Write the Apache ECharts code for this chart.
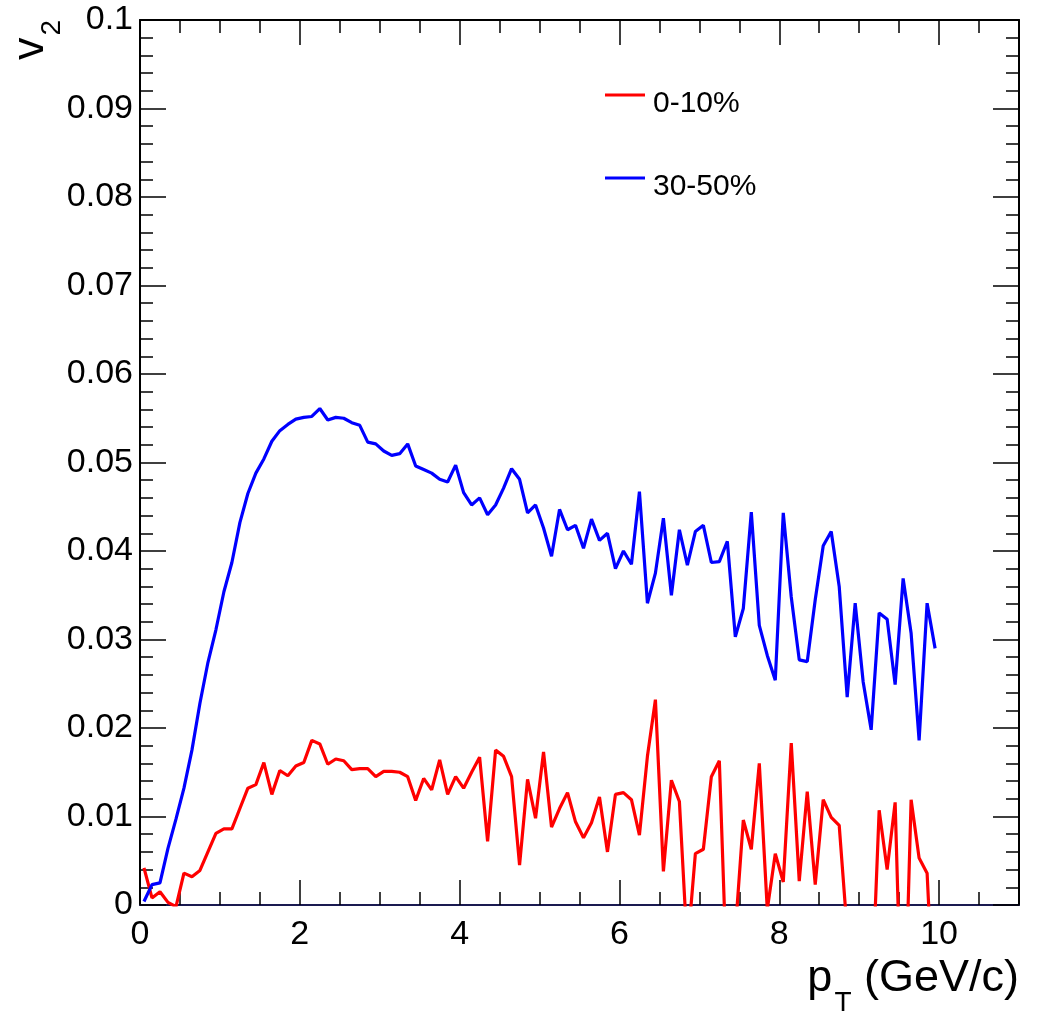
<!DOCTYPE html>
<html>
<head>
<meta charset="utf-8">
<script src="https://cdn.jsdelivr.net/npm/echarts@6/dist/echarts.min.js"></script>
<style>
html,body{margin:0;padding:0;background:#fff;}
#chart{width:1040px;height:1012px;}
</style>
</head>
<body>
<div id="chart"></div>
<script>
// bin centres (GeV/c)
var pT = [0.05,0.15,0.25,0.35,0.45,0.55,0.65,0.75,0.85,0.95,
  1.05,1.15,1.25,1.35,1.45,1.55,1.65,1.75,1.85,1.95,
  2.05,2.15,2.25,2.35,2.45,2.55,2.65,2.75,2.85,2.95,
  3.05,3.15,3.25,3.35,3.45,3.55,3.65,3.75,3.85,3.95,
  4.05,4.15,4.25,4.35,4.45,4.55,4.65,4.75,4.85,4.95,
  5.05,5.15,5.25,5.35,5.45,5.55,5.65,5.75,5.85,5.95,
  6.05,6.15,6.25,6.35,6.45,6.55,6.65,6.75,6.85,6.95,
  7.05,7.15,7.25,7.35,7.45,7.55,7.65,7.75,7.85,7.95,
  8.05,8.15,8.25,8.35,8.45,8.55,8.65,8.75,8.85,8.95,
  9.05,9.15,9.25,9.35,9.45,9.55,9.65,9.75,9.85,9.95];

// v2, 0-10% centrality
var v2Central = [0.0042,0.0008,0.0015,0.0003,-0.0002,0.0036,0.0032,0.0039,0.0060,0.0081,
  0.0086,0.0086,0.0109,0.0132,0.0136,0.0161,0.0125,0.0152,0.0146,0.0157,
  0.0161,0.0186,0.0182,0.0159,0.0165,0.0163,0.0153,0.0154,0.0154,0.0145,
  0.0151,0.0151,0.0150,0.0145,0.0118,0.0143,0.0130,0.0164,0.0125,0.0145,
  0.0132,0.0150,0.0167,0.0072,0.0175,0.0168,0.0145,0.0045,0.0142,0.0098,
  0.0173,0.0088,0.0109,0.0127,0.0094,0.0076,0.0093,0.0122,0.0060,0.0125,
  0.0127,0.0119,0.0079,0.0168,0.0232,0.0038,0.0141,0.0117,-0.0050,0.0058,
  0.0063,0.0145,0.0163,-0.0100,-0.0030,0.0096,0.0063,0.0160,-0.0005,0.0058,
  0.0026,0.0183,0.0027,0.0128,0.0023,0.0119,0.0099,0.0090,-0.0030,-0.0080,
  -0.0050,-0.0120,0.0107,0.0040,0.0116,-0.0200,0.0119,0.0053,0.0036,-0.0150];

// v2, 30-50% centrality
var v2Peripheral = [0.0004,0.0023,0.0025,0.0064,0.0097,0.0132,0.0175,0.0228,0.0274,0.0311,
  0.0354,0.0387,0.0432,0.0465,0.0488,0.0504,0.0524,0.0536,0.0543,0.0549,
  0.0551,0.0552,0.0561,0.0548,0.0551,0.0550,0.0545,0.0542,0.0523,0.0521,
  0.0513,0.0508,0.0510,0.0521,0.0496,0.0492,0.0488,0.0481,0.0478,0.0497,
  0.0466,0.0452,0.0460,0.0441,0.0452,0.0471,0.0493,0.0481,0.0443,0.0452,
  0.0426,0.0394,0.0447,0.0424,0.0429,0.0403,0.0436,0.0412,0.0420,0.0380,
  0.0400,0.0385,0.0467,0.0341,0.0375,0.0437,0.0350,0.0424,0.0384,0.0422,
  0.0429,0.0387,0.0388,0.0411,0.0303,0.0335,0.0444,0.0316,0.0282,0.0254,
  0.0443,0.0348,0.0277,0.0275,0.0345,0.0406,0.0422,0.0360,0.0235,0.0341,
  0.0252,0.0198,0.0330,0.0323,0.0249,0.0369,0.0307,0.0186,0.0341,0.0290];

var seriesNames = ['0-10%', '30-50%'];
var xTickLabels = ['0','2','4','6','8','10'];
var yTickLabels = ['0','0.01','0.02','0.03','0.04','0.05','0.06','0.07','0.08','0.09','0.1'];

var FONT = 'Liberation Sans, Arial, Helvetica, sans-serif';

function pairs(xs, ys) {
  var out = [];
  for (var i = 0; i < xs.length; i++) out.push([xs[i], ys[i]]);
  return out;
}

var chart = echarts.init(document.getElementById('chart'), null, {renderer: 'canvas'});

var xBase = {type: 'value', min: 0, max: 11, gridIndex: 0, splitLine: {show: false}};
var yBase = {type: 'value', min: 0, max: 0.1, interval: 0.01, gridIndex: 0, splitLine: {show: false}};
var legendText = {
  fontSize: 30, fontFamily: FONT, color: '#000',
  rich: {t: {fontSize: 30, fontFamily: FONT, color: '#000', lineHeight: 32, padding: [18, 0, 0, 3]}}
};
function legendFmt(name) { return '{t|' + name + '}'; }

var option = {
  animation: false,
  backgroundColor: '#ffffff',
  grid: {left: 140, right: 21, top: 20, bottom: 107, containLabel: false},
  legend: [
    {data: [seriesNames[0]], left: 605, top: 71, padding: 0, icon: 'rect', itemWidth: 40, itemHeight: 3,
     selectedMode: false, textStyle: legendText, formatter: legendFmt},
    {data: [seriesNames[1]], left: 605, top: 154, padding: 0, icon: 'rect', itemWidth: 40, itemHeight: 3,
     selectedMode: false, textStyle: legendText, formatter: legendFmt}
  ],
  xAxis: [
    Object.assign({}, xBase, {
      position: 'bottom', interval: 2,
      axisLine: {show: true, onZero: false, lineStyle: {color: '#1a1a50', width: 2}},
      axisTick: {show: true, inside: true, length: 25, lineStyle: {color: '#000', width: 1.5}},
      axisLabel: {show: true, fontSize: 34, fontFamily: FONT, color: '#000', margin: 13,
        formatter: function (v) { var s = String(v); return xTickLabels.indexOf(s) >= 0 ? s : ''; }}
    }),
    Object.assign({}, xBase, {
      position: 'bottom', interval: 0.5,
      axisLine: {show: false, onZero: false},
      axisTick: {show: true, inside: true, length: 13, lineStyle: {color: '#000', width: 1.5}},
      axisLabel: {show: false}
    }),
    Object.assign({}, xBase, {
      position: 'top', interval: 2,
      axisLine: {show: true, onZero: false, lineStyle: {color: '#000', width: 2}},
      axisTick: {show: true, inside: true, length: 25, lineStyle: {color: '#000', width: 1.5}},
      axisLabel: {show: false}
    }),
    Object.assign({}, xBase, {
      position: 'top', interval: 0.5,
      axisLine: {show: false, onZero: false},
      axisTick: {show: true, inside: true, length: 13, lineStyle: {color: '#000', width: 1.5}},
      axisLabel: {show: false}
    })
  ],
  yAxis: [
    Object.assign({}, yBase, {
      position: 'left',
      axisLine: {show: true, onZero: false, lineStyle: {color: '#000', width: 2}},
      axisTick: {show: true, inside: true, length: 26, lineStyle: {color: '#000', width: 1.5}},
      minorTick: {show: true, splitNumber: 5, length: 13, lineStyle: {color: '#000', width: 1.5}},
      axisLabel: {show: true, fontSize: 34, fontFamily: FONT, color: '#000', margin: 7,
        formatter: function (v) {
          var k = Math.round(v * 100);
          return yTickLabels[k] !== undefined ? yTickLabels[k] : '';
        }}
    }),
    Object.assign({}, yBase, {
      position: 'right',
      axisLine: {show: true, onZero: false, lineStyle: {color: '#000', width: 2}},
      axisTick: {show: true, inside: true, length: 26, lineStyle: {color: '#000', width: 1.5}},
      minorTick: {show: true, splitNumber: 5, length: 13, lineStyle: {color: '#000', width: 1.5}},
      axisLabel: {show: false}
    })
  ],
  series: [
    {name: seriesNames[0], type: 'line', xAxisIndex: 0, yAxisIndex: 0, data: pairs(pT, v2Central),
     showSymbol: false, symbol: 'none', clip: true, color: '#ff0000',
     lineStyle: {color: '#ff0000', width: 3.2}, z: 3},
    {name: seriesNames[1], type: 'line', xAxisIndex: 0, yAxisIndex: 0, data: pairs(pT, v2Peripheral),
     showSymbol: false, symbol: 'none', clip: true, color: '#0000ff',
     lineStyle: {color: '#0000ff', width: 3.2}, z: 3}
  ],
  graphic: [
    {
      type: 'text', x: 1019, y: 981, z: 10,
      style: {
        text: '{a|p}{b|T}{a| (GeV/c)}',
        align: 'right', verticalAlign: 'middle',
        fill: '#000',
        rich: {
          a: {fontSize: 45, fontFamily: FONT, fill: '#000', lineHeight: 50, verticalAlign: 'top'},
          b: {fontSize: 28, fontFamily: FONT, fill: '#000', lineHeight: 30, padding: [33, 0, 0, 2], verticalAlign: 'top'}
        }
      }
    },
    {
      type: 'text', x: 33, y: 20, rotation: Math.PI / 2, z: 10,
      style: {
        text: '{a|v}{b|2}',
        align: 'right', verticalAlign: 'middle',
        fill: '#000',
        rich: {
          a: {fontSize: 45, fontFamily: FONT, fill: '#000', lineHeight: 50, verticalAlign: 'top'},
          b: {fontSize: 28, fontFamily: FONT, fill: '#000', lineHeight: 30, padding: [30, 0, 0, 2], verticalAlign: 'top'}
        }
      }
    }
  ]
};

chart.setOption(option);
</script>
</body>
</html>
